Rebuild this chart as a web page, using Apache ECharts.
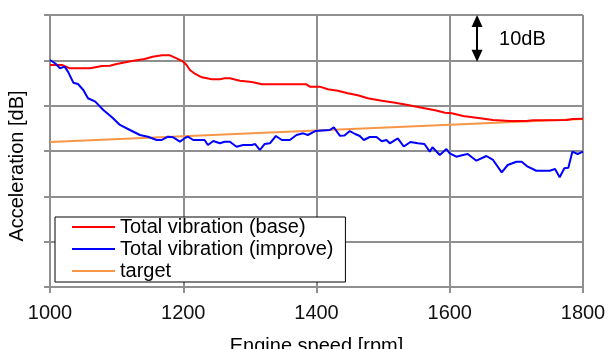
<!DOCTYPE html>
<html>
<head>
<meta charset="utf-8">
<script src="https://cdn.jsdelivr.net/npm/echarts@6/dist/echarts.min.js"></script>
<style>
html,body{margin:0;padding:0;background:#fff;}
#chart{width:609px;height:349px;}
</style>
</head>
<body>
<div id="chart"></div>
<script>
const seriesNames = ['Total vibration (base)', 'Total vibration (improve)', 'target'];
const xTicks = [1000, 1200, 1400, 1600, 1800];

const baseRpm = [1000,1018,1030,1060,1078,1090,1100,1123,1142,1154,1168,1180,1190,1200,1205,1210,1218,1228,1243,1255,1262,1270,1285,1303,1318,1385,1390,1405,1417,1432,1447,1462,1477,1498,1518,1537,1558,1578,1593,1603,1620,1640,1665,1690,1715,1725,1775,1785,1800];
const baseDb = [48.97,48.97,48.24,48.24,48.75,48.82,49.19,49.85,50.29,50.8,51.11,51.11,50.45,49.7,48.97,47.87,46.99,46.26,45.82,45.82,46.04,46.04,45.51,45.22,44.71,44.71,44.19,44.19,43.61,43.3,42.73,42.29,41.63,41.1,40.66,40.15,39.55,38.98,38.45,38.32,37.72,37.35,36.84,36.62,36.62,36.77,36.84,37.06,37.13];

const improveRpm = [1000,1008,1015,1022,1027,1035,1042,1050,1057,1068,1080,1093,1105,1120,1135,1147,1160,1168,1177,1185,1195,1203,1207,1215,1225,1232,1237,1245,1255,1262,1270,1280,1290,1303,1308,1315,1322,1330,1339,1348,1360,1370,1380,1387,1398,1420,1426,1435,1442,1450,1458,1465,1471,1480,1490,1498,1505,1510,1522,1531,1541,1552,1562,1570,1574,1585,1595,1600,1610,1620,1627,1640,1655,1665,1678,1687,1700,1708,1717,1730,1750,1758,1765,1772,1778,1784,1792,1800];
const improveDb = [50.07,49.3,48.24,48.6,47.5,45.07,44.78,43.46,41.63,40.88,39.05,37.43,35.74,34.63,33.53,33.15,32.43,32.43,33.15,33.02,32.05,32.93,33.15,32.43,32.43,32.43,31.32,32.2,31.7,32.05,32.05,30.95,31.32,31.32,31.54,30.22,31.54,31.7,33.31,32.43,32.43,33.53,33.9,33.53,34.41,34.63,35.23,33.38,33.42,34.41,33.75,33.31,32.43,33.09,33.09,32.14,32.43,31.7,32.8,30.99,31.99,31.7,31.54,29.85,30.82,29.12,30.44,29.49,28.74,29.12,29.34,27.86,28.9,28.02,25.3,26.91,27.64,27.64,26.54,25.65,25.65,26.03,24.2,26.18,26.32,29.85,29.34,29.85];

const targetRpm = [1000, 1800];
const targetDb = [32.0, 37.06];

const scaleArrowDb = [58.7, 51.0];
const scaleArrowRpm = 1641;
const scaleLabel = '10dB';
const scaleLabelPos = [1709, 54.6];

const zip = (xs, ys) => xs.map((x, i) => [x, ys[i]]);
const FONT = '"Liberation Sans", Arial, sans-serif';
const GRID_COLOR = '#8f8f8f';

const chart = echarts.init(document.getElementById('chart'), null, {renderer: 'canvas'});
chart.setOption({
  animation: false,
  backgroundColor: '#ffffff',
  textStyle: {fontFamily: FONT},
  grid: {left: 50, right: 26, top: 15, bottom: 62, containLabel: false, outerBoundsMode: 'none'},
  legend: {
    data: seriesNames,
    orient: 'vertical',
    left: 55, top: 217,
    padding: [0, 12, 1, 16],
    itemWidth: 43, itemHeight: 20, itemGap: 2,
    backgroundColor: '#ffffff',
    borderColor: '#000000', borderWidth: 1,
    itemStyle: {opacity: 0},
    lineStyle: {width: 2},
    textStyle: {fontFamily: FONT, fontSize: 20, color: '#000', lineHeight: 20, padding: [0,0,0,0]}
  },
  xAxis: {
    type: 'value', min: 1000, max: 1800, interval: 200,
    name: 'Engine speed [rpm]', nameLocation: 'middle', nameGap: 49,
    nameTextStyle: {fontFamily: FONT, fontSize: 20, color: '#000'},
    axisLine: {show: true, lineStyle: {color: GRID_COLOR, width: 2}},
    axisTick: {show: true, length: 6, lineStyle: {color: GRID_COLOR, width: 2}},
    axisLabel: {fontFamily: FONT, fontSize: 20, color: '#111', margin: 16, formatter: v => xTicks.includes(v) ? String(v) : ''},
    splitLine: {show: true, lineStyle: {color: GRID_COLOR, width: 2}}
  },
  yAxis: {
    type: 'value', min: 0, max: 60, interval: 10,
    axisLine: {show: true, lineStyle: {color: GRID_COLOR, width: 2}},
    axisTick: {show: true, inside: false, length: 6, lineStyle: {color: GRID_COLOR, width: 2}},
    axisLabel: {show: false},
    splitLine: {show: true, lineStyle: {color: GRID_COLOR, width: 2}}
  },
  graphic: [{
    type: 'text',
    x: 17, y: 166,
    rotation: Math.PI / 2,
    style: {text: 'Acceleration [dB]', font: '20px ' + FONT, fill: '#000', textAlign: 'center', textVerticalAlign: 'middle'}
  }],
  series: [
    {
      name: seriesNames[0], type: 'line', data: zip(baseRpm, baseDb),
      symbol: 'none', lineStyle: {color: '#ff0000', width: 2}, itemStyle: {color: '#ff0000'}, z: 3
    },
    {
      name: seriesNames[1], type: 'line', data: zip(improveRpm, improveDb),
      symbol: 'none', lineStyle: {color: '#0000ff', width: 2}, itemStyle: {color: '#0000ff'}, z: 3
    },
    {
      name: seriesNames[2], type: 'line', data: zip(targetRpm, targetDb),
      symbol: 'none', lineStyle: {color: '#f79646', width: 2}, itemStyle: {color: '#f79646'}, z: 2,
      markLine: {
        silent: true, animation: false,
        symbol: ['triangle', 'triangle'], symbolSize: [11, 12],
        lineStyle: {color: '#000', width: 2, type: 'solid'},
        label: {show: false},
        data: [[{coord: [scaleArrowRpm, scaleArrowDb[0]]}, {coord: [scaleArrowRpm, scaleArrowDb[1]]}]]
      },
      markPoint: {
        silent: true, symbol: 'circle', symbolSize: 0,
        label: {show: true, formatter: scaleLabel, position: 'inside', fontFamily: FONT, fontSize: 20, color: '#000'},
        data: [{coord: scaleLabelPos}]
      }
    }
  ]
});
</script>
</body>
</html>
